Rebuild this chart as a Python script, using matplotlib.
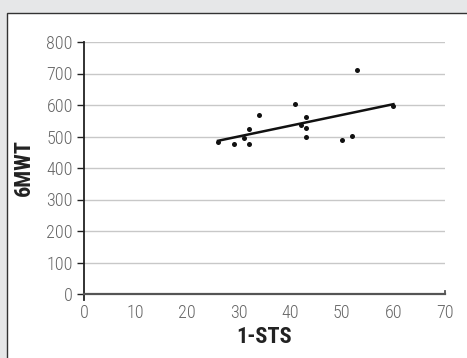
import numpy as np
import matplotlib
matplotlib.use("Agg")
import matplotlib.pyplot as plt
from matplotlib.patches import Rectangle

sts = [26, 29, 31, 32, 32, 34, 41, 42, 43, 43, 43, 50, 52, 53, 60]
mwt = [481, 477, 494, 525, 477, 569, 602, 537, 563, 527, 500, 490, 503, 711, 596]
xticks = [0, 10, 20, 30, 40, 50, 60, 70]
yticks = [0, 100, 200, 300, 400, 500, 600, 700, 800]

fam = ['Roboto Condensed', 'Barlow Semi Condensed', 'DejaVu Sans']
plt.rcParams['font.family'] = fam

fig = plt.figure(figsize=(4.67, 3.58), dpi=100)
fig.patch.set_facecolor('#e6e7e8')
W, H = 467, 358
panel = Rectangle((7 / W, -0.1), 1.2, (358 - 13) / H + 0.1,
                  transform=fig.transFigure, facecolor='white',
                  edgecolor='#333333', linewidth=1.0, zorder=-10)
fig.patches.append(panel)

ax = fig.add_axes([84 / W, (358 - 294) / H, (445 - 84) / W, (294 - 42) / H])
ax.set_zorder(5)
ax.set_facecolor('none')
ax.set_xlim(0, 70)
ax.set_ylim(0, 800)
ax.set_xticks(xticks)
ax.set_yticks(yticks)
for y in yticks[1:]:
    ax.axhline(y, color='#c8c8c8', linewidth=1.0, zorder=0)

for s in ['top', 'right']:
    ax.spines[s].set_visible(False)
ax.spines['left'].set_color('#222222')
ax.spines['left'].set_linewidth(1.3)
ax.spines['bottom'].set_color('#555555')
ax.spines['bottom'].set_linewidth(1.6)

ax.tick_params(axis='y', length=5, width=1.0, color='#222222', pad=3,
               labelsize=13, labelcolor='#666666')
ax.tick_params(axis='x', length=0, pad=7, labelsize=13, labelcolor='#666666')
for lab in ax.get_xticklabels() + ax.get_yticklabels():
    lab.set_fontweight('light')

# small axis end ticks
tr = ax.get_xaxis_transform()
ax.plot([0, 0], [0, -0.025], color='#222222', lw=1.3, transform=tr, clip_on=False)
ax.plot([70, 70], [0, 0.012], color='#555555', lw=1.3, transform=tr, clip_on=False)

ax.scatter(sts, mwt, s=13, color='#111111', zorder=3, linewidths=0)
k, b = np.polyfit(sts, mwt, 1)
xs = np.array([min(sts), max(sts)])
ax.plot(xs, k * xs + b, color='#111111', linewidth=1.8, zorder=2)

ax.set_xlabel('1-STS', fontsize=16, fontweight='bold', color='#222222', labelpad=3)
ax.set_ylabel('6MWT', fontsize=16, fontweight='bold', color='#222222', labelpad=8)

fig.savefig('out.png', dpi=100, facecolor=fig.get_facecolor())
